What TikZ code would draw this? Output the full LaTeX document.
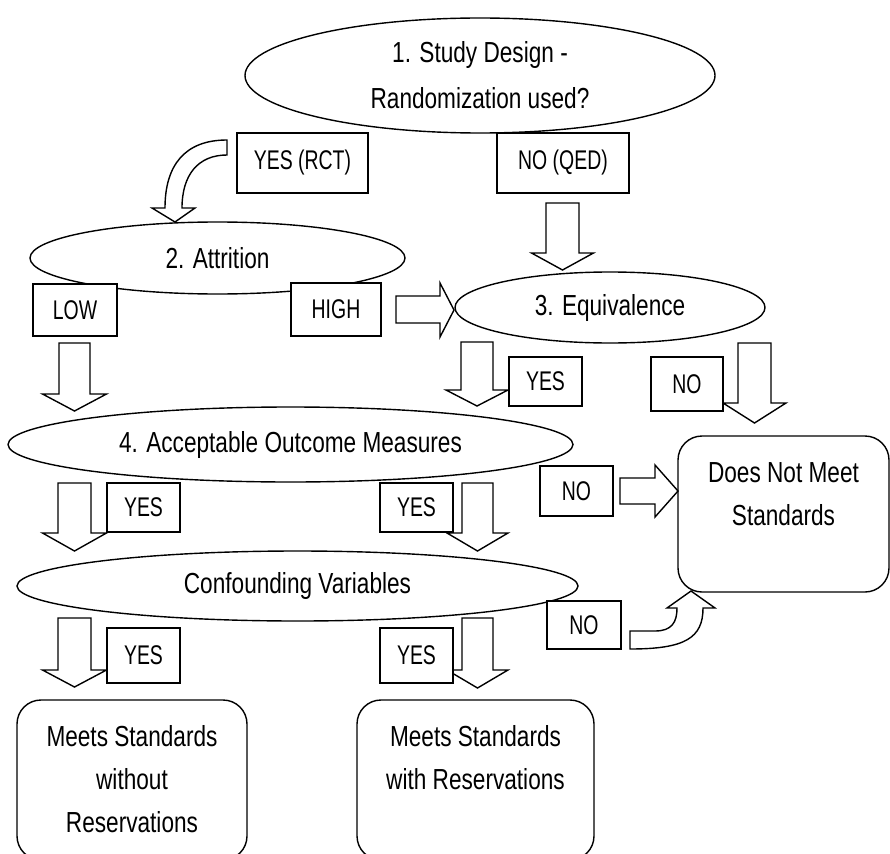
\documentclass[tikz,border=0pt]{standalone}
\usepackage{fontspec}
\setmainfont{Liberation Sans}[FakeStretch=0.78]
\newfontfamily\labfont{Liberation Sans}[FakeStretch=0.72]
\usetikzlibrary{shapes.geometric}
\tikzset{
  ln/.style={line width=1.4pt, draw=black, fill=white},
  ell/.style={ln, ellipse, inner sep=0pt, font=\fontsize{29}{46}\selectfont, align=center},
  lab/.style={ln, rectangle, inner sep=0pt, font=\labfont\fontsize{27}{30}\selectfont},
  rbox/.style={ln, rectangle, rounded corners=24pt, inner sep=0pt},
  btxt/.style={font=\fontsize{29}{43}\selectfont, align=center, inner sep=0pt},
  barrow/.style={ln, line join=miter},
}
% block arrow pointing down: cx, shaft half width, head half width, top, head base, tip
\newcommand\blkdown[6]{%
  \draw[barrow] ({#1-#2},#4) -- ({#1+#2},#4) -- ({#1+#2},#5) -- ({#1+#3},#5) -- (#1,#6)
    -- ({#1-#3},#5) -- ({#1-#2},#5) -- cycle;}
\begin{document}
\begin{tikzpicture}[x=1pt,y=-1pt]
\useasboundingbox (0,0) rectangle (890,853);
\clip (0,0) rectangle (890,853);

% ellipses
\node[ell, minimum width=470pt, minimum height=115pt] (e1) at (480,75.5) {1. Study Design -\\Randomization used?};
\node[ell, minimum width=375pt, minimum height=72pt] (e2) at (217.5,258) {2. Attrition};
\node[ell, minimum width=310pt, minimum height=71pt] (e3) at (610,307.5) {3. Equivalence};
\node[ell, minimum width=565pt, minimum height=75pt] (e4) at (290.5,444.5) {4. Acceptable Outcome Measures};
\node[ell, minimum width=561pt, minimum height=70pt] (e5) at (297.5,586) {Confounding Variables};

% result boxes
\node[rbox, minimum width=211pt, minimum height=156pt] (dn) at (783.5,514) {};
\node[btxt] (dnt) at (783.5,494) {Does Not Meet\\Standards};
\node[rbox, minimum width=230pt, minimum height=160pt] (m1) at (132,780) {};
\node[btxt] (m1t) at (132,779) {Meets Standards\\without\\Reservations};
\node[rbox, minimum width=237pt, minimum height=160pt] (m2) at (475.5,780) {};
\node[btxt] (m2t) at (475.5,758) {Meets Standards\\with Reservations};

% curved arrow from YES (RCT) to attrition
\draw[barrow] (227,140) .. controls (185,140) and (165,165) .. (165,208)
  -- (152,208) -- (175,222) -- (195,208) -- (182,208)
  .. controls (182,175) and (198,155) .. (227,155) -- cycle;

% curved arrow from confounding NO to Does Not Meet
\draw[barrow] (630,631) -- (655,631) .. controls (672,631) and (677,622) .. (677,608)
  -- (667,608) -- (691,591) -- (715,608) -- (703,608)
  .. controls (703,638) and (685,649) .. (630,649) -- cycle;

% straight block arrows
\blkdown{562.5}{16.5}{31}{203}{253}{270}
\blkdown{74.5}{15.5}{32}{343}{394}{411}
\blkdown{477}{16}{31}{342}{390}{406}
\blkdown{754.5}{16.5}{31.5}{343}{403}{423}
\blkdown{74.5}{16.5}{32}{483}{533}{551}
\blkdown{477.5}{15.5}{30.5}{483}{533}{551}
\blkdown{74.5}{16.5}{32}{618}{670}{687}
\blkdown{477.5}{15.5}{30.5}{618}{670}{688}
% right arrows
\draw[barrow] (396,296) -- (440,296) -- (440,283) -- (454,310) -- (440,337) -- (440,323) -- (396,323) -- cycle;
\draw[barrow] (620,478) -- (655,478) -- (655,465) -- (678,491) -- (655,517) -- (655,504) -- (620,504) -- cycle;

% labels
\node[lab, minimum width=131pt, minimum height=60pt] (yrct) at (302.5,163) {YES (RCT)};
\node[lab, minimum width=132pt, minimum height=60pt] (nqed) at (563,163) {NO (QED)};
\node[lab, minimum width=84pt, minimum height=52pt] (low) at (75,310) {LOW};
\node[lab, minimum width=90pt, minimum height=53pt] (high) at (336,309.5) {HIGH};
\node[lab, minimum width=73pt, minimum height=49pt] (ey) at (545.5,381.5) {YES};
\node[lab, minimum width=72pt, minimum height=54pt] (en) at (687,384) {NO};
\node[lab, minimum width=73pt, minimum height=49pt] (ay1) at (143.5,507.5) {YES};
\node[lab, minimum width=73pt, minimum height=49pt] (ay2) at (416.5,507.5) {YES};
\node[lab, minimum width=73pt, minimum height=50pt] (an) at (576.5,491) {NO};
\node[lab, minimum width=73pt, minimum height=55pt] (cy1) at (143.5,655.5) {YES};
\node[lab, minimum width=73pt, minimum height=55pt] (cy2) at (416.5,655.5) {YES};
\node[lab, minimum width=74pt, minimum height=48pt] (cn) at (584,625) {NO};
\end{tikzpicture}
\end{document}
